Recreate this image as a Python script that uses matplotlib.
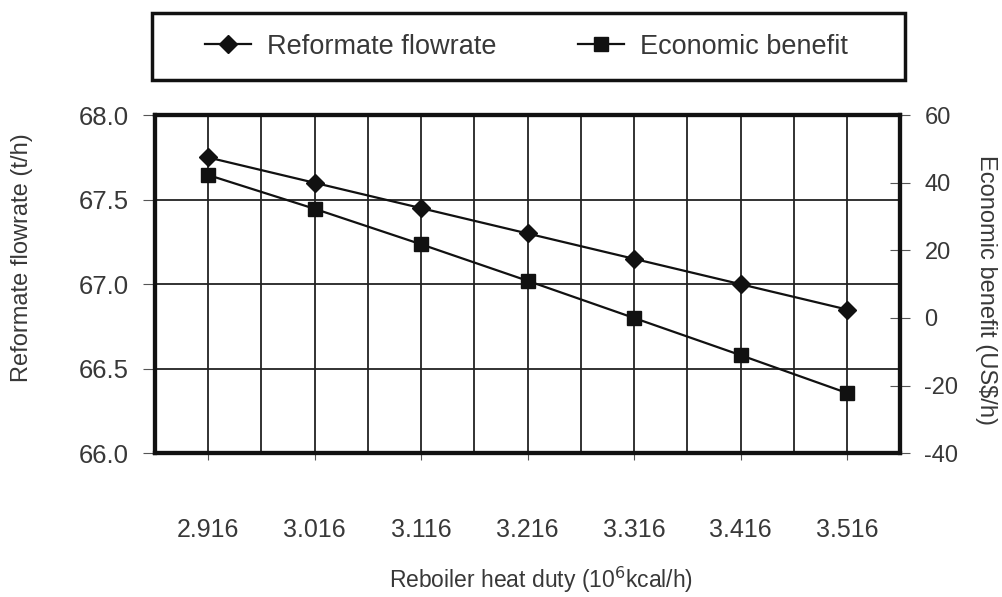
import matplotlib.pyplot as plt
from matplotlib.patches import Rectangle
import numpy as np

plt.rcParams['font.family'] = ['Liberation Sans', 'DejaVu Sans']
plt.rcParams['axes.unicode_minus'] = False

# data
duty = ['2.916', '3.016', '3.116', '3.216', '3.316', '3.416', '3.516']
flowrate = [67.75, 67.60, 67.45, 67.30, 67.15, 67.00, 66.85]
benefit = [42.3, 32.3, 21.8, 11.0, 0.0, -11.0, -22.2]

txt = '#383838'
x = np.arange(len(duty))

fig = plt.figure(figsize=(10.03, 5.97), dpi=100)
ax = fig.add_axes([0.1545, 0.241, 0.743, 0.566])
ax2 = ax.twinx()

l1, = ax.plot(x, flowrate, color='#111111', lw=1.6, marker='D', ms=9, label='Reformate flowrate')
l2, = ax2.plot(x, benefit, color='#111111', lw=1.6, marker='s', ms=10, label='Economic benefit')

ax.set_xlim(-0.5, 6.5)
ax.set_ylim(66.0, 68.0)
ax2.set_ylim(-40, 60)
ax.set_yticks([66.0, 66.5, 67.0, 67.5, 68.0])
ax.set_yticklabels(['66.0', '66.5', '67.0', '67.5', '68.0'])
ax2.set_yticks([-40, -20, 0, 20, 40, 60])

ax.set_xticks(x)
ax.set_xticklabels(duty)
ax.set_xticks(x[:-1] + 0.5, minor=True)

# grid
ax.grid(True, which='major', axis='both', color='#222222', lw=1.3)
ax.grid(True, which='minor', axis='x', color='#222222', lw=1.3)
ax.set_axisbelow(True)
ax.tick_params(axis='x', which='minor', length=0)

ax.tick_params(axis='x', which='major', length=5, pad=42, labelsize=18, labelcolor=txt, color='#555555')
ax.tick_params(axis='y', length=9, pad=10, labelsize=18.5, labelcolor=txt, color='#555555')
ax2.tick_params(axis='y', direction='inout', length=15, pad=10, labelsize=17, labelcolor=txt, color='#555555')

for a in (ax, ax2):
    for s in a.spines.values():
        s.set_linewidth(3)
        s.set_color('#111111')

ax.set_ylabel('Reformate flowrate (t/h)', fontsize=17, color=txt, va='center')
ax.yaxis.set_label_coords(-0.1785, 0.58)
ax2.set_ylabel('Economic benefit (US$/h)', fontsize=17, color=txt, rotation=270, va='center')
ax2.yaxis.set_label_coords(1.1154, 0.482)
ax.set_xlabel('Reboiler heat duty (10$^6$kcal/h)', fontsize=16.5, color=txt, va='center')
ax.xaxis.set_label_coords(0.518, -0.374)

# legend box drawn as its own rectangle
fig.patches.append(Rectangle((0.1515, 0.866), 0.751, 0.112, transform=fig.transFigure,
                             fill=False, edgecolor='#111111', lw=2.5))
leg = fig.legend(handles=[l1, l2], loc='center', ncol=2,
                 bbox_to_anchor=(0.525, 0.922),
                 fontsize=19.5, frameon=False, handlelength=1.7,
                 handletextpad=0.6, columnspacing=3.0, borderaxespad=0)
for t in leg.get_texts():
    t.set_color(txt)

plt.savefig('out.png', dpi=100)
